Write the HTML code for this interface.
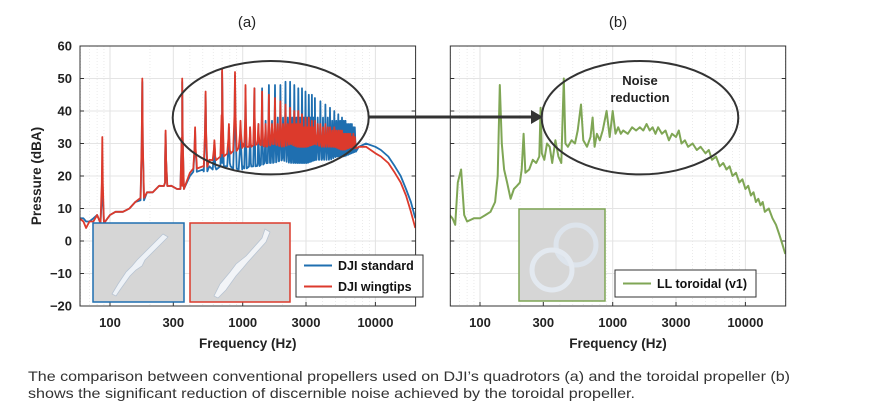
<!DOCTYPE html>
<html><head><meta charset="utf-8"><style>
html,body{margin:0;padding:0;background:#fff;}
svg{display:block;font-family:"Liberation Sans",Arial,sans-serif;}
</style></head><body>
<svg id="chart" width="872" height="412" viewBox="0 0 872 412">
<g id="gA"></g>
<g id="gB"></g>
<g id="anno"></g>
<text x="28" y="381" font-size="14" fill="#333" textLength="762" lengthAdjust="spacingAndGlyphs">The comparison between conventional  propellers used on DJI’s quadrotors (a) and the toroidal propeller (b)</text>
<text x="28" y="398" font-size="14" fill="#333" textLength="607" lengthAdjust="spacingAndGlyphs">shows the significant reduction of discernible noise achieved by the toroidal propeller.</text>
</svg>
<script>
// ---- data ----
const yTicks = [60,50,40,30,20,10,0,-10,-20];
const yTickLabels = ["60","50","40","30","20","10","0","\u221210","\u221220"];
const xTicks = [100,300,1000,3000,10000];
const xTickLabels = ["100","300","1000","3000","10000"];
const fundamental = 87.5;
const harmN = [1,2,3,4,5,6,7,8,9,10,11,12,13,14,15,16,17,18,19,20,21,22,23,24,25,26,27,28,29,30,31,32,33,34,35,36,37,38,39,40,42,44,46,48,50,52,54,56,58,60,62,64,66,68,70,72,74,76,78,80];
const redPeak = [32,50,34,50,35,46,31,53,36,52,37,48,35,47,36,46,36,45,36,44,36,43,36,42,36,41,36,40,36,40,36,39,35,38,35,38,35,37,35,37,36,36,35,36,35,35,34,35,34,34,34,34,33,33,33,33,33,32,33,32];
const bluePeak = [22,49,33,49,34,45,30,52,35,51,36,47,35,47,36,47,37,48,37,48,38,48,38,49,38,49,38,48,38,47,38,47,38,46,38,45,38,45,38,44,38,43,38,42,38,41,37,40,37,39,37,38,37,37,36,36,36,36,35,35];
const baseFreq = [59,63,66,70,75,80,90,100,110,125,140,155,170,190,210,235,260,290,320,350,400,450,500,560,620,700,800,900,1000,1150,1300,1500,1700,2000,2300,2600,3000,3500,4000,4500,5000,5700,6500,7500,8500,10000,11000,12500,14000,15500,17000,18500,20000];
const redBase = [7,6,4,6,6,8,6,8,9,9,10,12,14,15,15,17,18,17,16,17,21,24,23,25,26,27,28,29,30,30,31,30,31,30,31,30,30,31,30,30,30,29,30,29,29,27,26,24,21,18,14,9,4];
const blueBase = [7,7,6,6,7,8,6,8,9,9,10,12,13,15,15,17,18,17,16,17,20,23,22,23,23,24,24,23,23,24,24,25,25,26,25,25,25,26,26,26,27,27,28,29,30,29,28,26,23,20,16,12,7];
const greenFreq = [59,62,65,68,72,76,80,90,100,110,120,130,136,141,146,152,160,170,180,190,200,206,213,220,235,250,265,280,286,292,305,320,335,350,370,390,410,428,440,460,490,520,545,577,600,640,680,705,730,760,800,840,900,950,1000,1050,1100,1150,1200,1300,1400,1500,1600,1700,1800,1900,2000,2100,2200,2350,2500,2650,2800,3000,3150,3300,3500,3700,4000,4300,4600,5000,5300,5600,6000,6400,6800,7200,7600,8000,8500,9000,9500,10000,10500,11000,11500,12000,12500,13000,13500,14000,15000,16000,17000,18000,19000,20000];
const greenVal = [8,7,5,18,22,8,6,7,7,8,9,12,20,48,30,22,18,13,16,17,18,22,33,21,22,25,24,26,41,27,25,30,29,24,31,26,24,50,30,29,31,30,34,42,31,29,32,38,29,33,31,34,40,32,40,33,35,33,34,33,35,34,35,34,36,34,35,33,35,33,34,31,33,32,34,30,31,29,30,28,29,27,28,25,26,23,24,22,23,20,21,18,19,16,17,14,15,12,13,11,12,9,10,7,5,2,-1,-4];

// ---- helpers ----
const NS = "http://www.w3.org/2000/svg";
function mk(tag, attrs, parent){const e=document.createElementNS(NS,tag);for(const k in attrs)e.setAttribute(k,attrs[k]);parent.appendChild(e);return e;}
const yTop=46, yBot=306;
function yScale(v){return yTop+(60-v)*(yBot-yTop)/80;}
function makeX(x100){return f=>x100+(Math.log10(f)-2)*132.7;}

function buildHarmonic(base, peaks, xs){
  const pts=[];
  for(let i=0;i<baseFreq.length;i++)pts.push([baseFreq[i],base[i]]);
  function baseAt(f){
    for(let i=0;i<baseFreq.length-1;i++){
      if(f>=baseFreq[i]&&f<=baseFreq[i+1]){const t=(Math.log(f)-Math.log(baseFreq[i]))/(Math.log(baseFreq[i+1])-Math.log(baseFreq[i]));return base[i]+t*(base[i+1]-base[i]);}
    }return base[base.length-1];
  }
  for(let i=0;i<harmN.length;i++){
    const f=harmN[i]*fundamental;
    const w=harmN[i]<12?0.03:0.02;
    const b=baseAt(f);
    pts.push([f*(1-w),b-1]);
    pts.push([f*(1-w*0.3),b+(peaks[i]-b)*0.45]);
    pts.push([f,peaks[i]]);
    pts.push([f*(1+w*0.3),b+(peaks[i]-b)*0.45]);
    pts.push([f*(1+w),b-1]);
  }
  pts.sort((a,b)=>a[0]-b[0]);
  return pts.filter(p=>p[0]>=59&&p[0]<=20000).map(p=>xs(p[0]).toFixed(1)+","+yScale(p[1]).toFixed(1)).join(" ");
}

function panel(g, x0, x1, x100, showY, name){
  const xs=makeX(x100);
  const gridG=mk("g",{},g);
  
  
  for(let d=10;d<=10000;d*=10){for(let m=2;m<=9;m++){const f=d*m;const x=xs(f);if(x<=x0||x>=x1)continue;
    const major=(m===3);
    const l=mk("line",{x1:x,x2:x,y1:yTop,y2:yBot,stroke:major?"#e2e2e2":"#e6e6e6","stroke-width":major?1:0.8,"stroke-dasharray":major?"":"1,2"},gridG);
    
    }}
  for(const f of [100,1000,10000]){const x=xs(f);const l=mk("line",{x1:x,x2:x,y1:yTop,y2:yBot,stroke:"#e2e2e2","stroke-width":1},gridG);
    
    }
  for(const v of yTicks){const y=yScale(v);const l=mk("line",{x1:x0,x2:x1,y1:y,y2:y,stroke:"#e4e4e4","stroke-width":1},gridG);
    
    
    const t=mk("line",{x1:x0,x2:x0+4,y1:y,y2:y,stroke:"#333"},gridG);
    
    
    const t2=mk("line",{x1:x1-4,x2:x1,y1:y,y2:y,stroke:"#333"},gridG);
    
    }
  yTicks.forEach((v,i)=>{ if(!showY) return;
    const t=mk("text",{x:x0-8,y:yScale(v)+4.5,"font-size":13,"text-anchor":"end",fill:"#222","font-weight":"bold"},g);
    t.textContent=yTickLabels[i];
    
    });
  xTicks.forEach((f,i)=>{const x=xs(f);
    const tk=mk("line",{x1:x,x2:x,y1:yBot-4,y2:yBot,stroke:"#333"},g);
    
    
    const t=mk("text",{x:x,y:327,"font-size":13,"text-anchor":"middle",fill:"#222","font-weight":"bold"},g);
    t.textContent=xTickLabels[i];
    
    });
  const xt=mk("text",{x:(x0+x1)/2,y:348,"font-size":13.5,"text-anchor":"middle",fill:"#222","font-weight":"bold"},g);
  xt.textContent="Frequency (Hz)";
  
  
  return xs;
}

const gA=document.getElementById("gA"), gB=document.getElementById("gB"), anno=document.getElementById("anno");
const xA=panel(gA,80,415.6,110,true,"panel-a");
const xB=panel(gB,450.3,785.7,480,false,"panel-b");

const yt=mk("text",{transform:"translate(41,176) rotate(-90)","font-size":13.5,"text-anchor":"middle",fill:"#222","font-weight":"bold"},gA);
yt.textContent="Pressure (dBA)";


[["(a)",247,"panel-a-title"],["(b)",618,"panel-b-title"]].forEach(a=>{
  const t=mk("text",{x:a[1],y:27,"font-size":15,"text-anchor":"middle",fill:"#222"},anno);
  t.textContent=a[0];
  
  });

const defs=mk("defs",{},document.getElementById("chart"));
const cA=mk("clipPath",{id:"clipA"},defs);mk("rect",{x:80,y:yTop,width:335.6,height:yBot-yTop},cA);
const cB=mk("clipPath",{id:"clipB"},defs);mk("rect",{x:450.3,y:yTop,width:335.4,height:yBot-yTop},cB);

const sb=mk("polyline",{points:buildHarmonic(blueBase,bluePeak,xA),fill:"none",stroke:"#1f6fb0","stroke-width":1.8,"stroke-linejoin":"round","clip-path":"url(#clipA)"},gA);


const sr=mk("polyline",{points:buildHarmonic(redBase,redPeak,xA),fill:"none",stroke:"#dc3a2c","stroke-width":1.8,"stroke-linejoin":"round","clip-path":"url(#clipA)"},gA);


const gp=greenFreq.map((f,i)=>xB(f).toFixed(1)+","+yScale(greenVal[i]).toFixed(1)).join(" ");
const sg=mk("polyline",{points:gp,fill:"none",stroke:"#7fa655","stroke-width":2,"stroke-linejoin":"round","clip-path":"url(#clipB)"},gB);



[[80,415.6,gA,"panel-a-frame"],[450.3,785.7,gB,"panel-b-frame"]].forEach(p=>{
  const r=mk("rect",{x:p[0],y:yTop,width:p[1]-p[0],height:yBot-yTop,fill:"none",stroke:"#333","stroke-width":1},p[2]);
  
  });

function inset(x,y,w,h,col,name,g){
  const r=mk("rect",{x:x,y:y,width:w,height:h,fill:"#d6d6d6",stroke:col,"stroke-width":1.5},g);
  
  }
inset(93,223,91,79,"#1f6fb0","inset-standard-propeller",gA);
inset(190,223,100,79,"#dc3a2c","inset-wingtip-propeller",gA);
inset(519,209,86,92,"#7fa655","inset-toroidal-propeller",gB);
const p1=mk("path",{d:"M163,234 L168,237 L145,260 L142,266 L136,270 L130,276 L120,290 L116,296 L112,294 L118,284 L126,272 L132,266 L137,260 Z",fill:"#eef2f7",stroke:"#b8c4d2","stroke-width":0.8},gA);


const p2=mk("path",{d:"M265,229 L270,232 L266,242 L248,262 L243,268 L236,276 L226,290 L218,298 L214,296 L220,284 L230,272 L236,264 L246,256 L262,238 Z",fill:"#f2f4f7",stroke:"#b8c4d2","stroke-width":0.8},gA);


const t1=mk("circle",{cx:576,cy:245,r:20,fill:"none",stroke:"#dde4ec","stroke-width":5},gB);


const t2=mk("circle",{cx:552,cy:270,r:20,fill:"none",stroke:"#e3e9f0","stroke-width":5},gB);



function legend(x,y,w,h,items,g,name){
  const r=mk("rect",{x:x,y:y,width:w,height:h,fill:"#fff",stroke:"#333","stroke-width":1},g);
  
  
  items.forEach((it,i)=>{const yy=y+(h/items.length)*(i+0.5);
    const l=mk("line",{x1:x+8,x2:x+36,y1:yy,y2:yy,stroke:it[1],"stroke-width":2},g);
    
    
    const t=mk("text",{x:x+42,y:yy+4.5,"font-size":12.5,fill:"#111","font-weight":"bold"},g);
    t.textContent=it[0];
    
    });
}
legend(296,255,127,42,[["DJI standard","#1f6fb0"],["DJI wingtips","#dc3a2c"]],gA,"legend-a");
legend(615,270,141,27,[["LL toroidal (v1)","#7fa655"]],gB,"legend-b");

const e1=mk("ellipse",{cx:270.7,cy:117.7,rx:98,ry:56.7,fill:"none",stroke:"#333","stroke-width":2},anno);


const e2=mk("ellipse",{cx:640,cy:117.7,rx:98.3,ry:56.7,fill:"none",stroke:"#333","stroke-width":2},anno);


const ar=mk("line",{x1:369,x2:533,y1:117,y2:117,stroke:"#333","stroke-width":3},anno);


const ah=mk("path",{d:"M531,110 L543,117 L531,124 Z",fill:"#333"},anno);


[["Noise",85],["reduction",102]].forEach(a=>{const t=mk("text",{x:640,y:a[1],"font-size":13,"text-anchor":"middle",fill:"#222","font-weight":"bold"},anno);
  t.textContent=a[0];
  
  });
</script>
</body></html>
